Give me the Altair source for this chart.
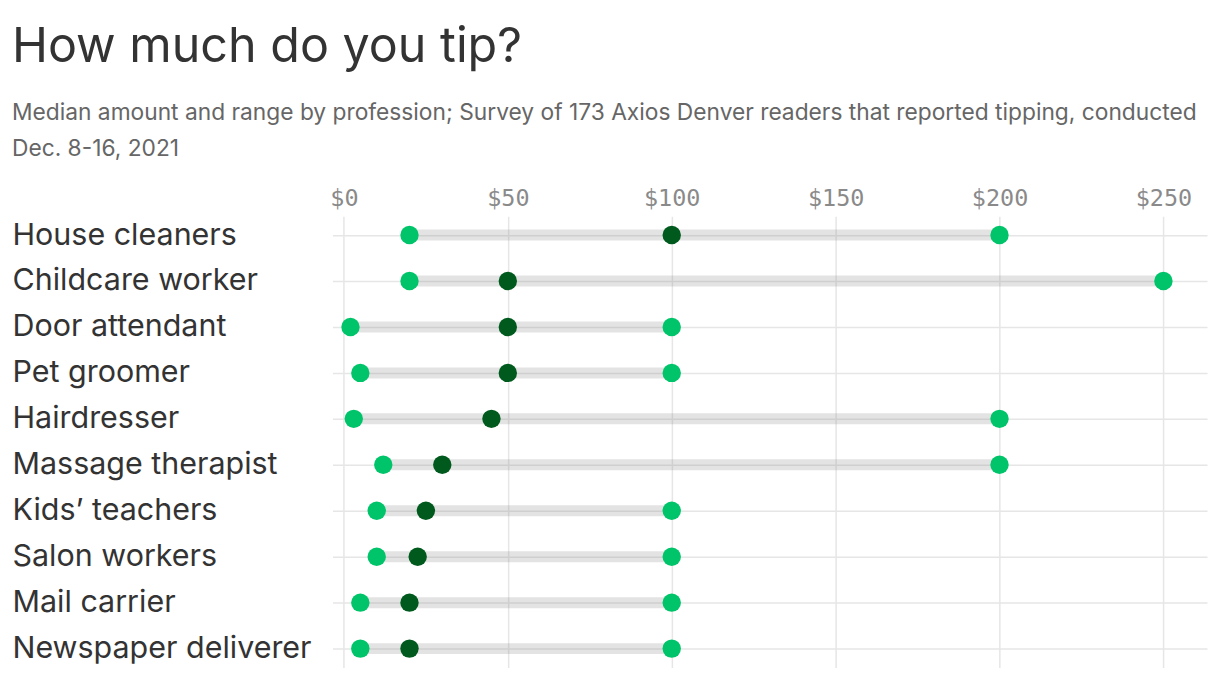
import altair as alt
import pandas as pd

professions = ["House cleaners", "Childcare worker", "Door attendant", "Pet groomer",
               "Hairdresser", "Massage therapist", "Kids’ teachers", "Salon workers",
               "Mail carrier", "Newspaper deliverer"]
low = [20, 20, 2, 5, 3, 12, 10, 10, 5, 5]
median = [100, 50, 50, 50, 45, 30, 25, 22.5, 20, 20]
high = [200, 250, 100, 100, 200, 200, 100, 100, 100, 100]
ticks = [0, 50, 100, 150, 200, 250]

df = pd.DataFrame({"profession": professions, "low": low, "median": median, "high": high})

FONT = "Inter"
x_scale = alt.Scale(domain=[-3.5, 263.3], nice=False, zero=False)
y_enc = alt.Y("profession:N", sort=professions,
              scale=alt.Scale(type="point", padding=0.41),
              axis=alt.Axis(title=None, orient="left", labelAlign="left", labelPadding=321,
                            labelFont=FONT, labelFontSize=30.5, labelColor="#333333",
                            labelLimit=400, ticks=False, domain=False, grid=True,
                            gridColor="#e6e6e6", gridWidth=1.5, labelBaseline="middle"))

x_axis = alt.Axis(title=None, orient="top", values=ticks, labelExpr="'$' + datum.value",
                  labelFont="DejaVu Sans Mono", labelFontSize=23.5, labelColor="#8a8a8a",
                  labelPadding=6, ticks=False, domain=False, grid=True,
                  gridColor="#e6e6e6", gridWidth=1.5)

base = alt.Chart(df)

bars = base.mark_rule(strokeWidth=11, color="#808080", opacity=0.22).encode(
    x=alt.X("low:Q", scale=x_scale, axis=x_axis),
    x2="high:Q",
    y=y_enc,
)

lows = base.mark_circle(size=340, color="#00c46a", opacity=1).encode(
    x=alt.X("low:Q", scale=x_scale), y=alt.Y("profession:N", sort=professions))
highs = base.mark_circle(size=340, color="#00c46a", opacity=1).encode(
    x=alt.X("high:Q", scale=x_scale), y=alt.Y("profession:N", sort=professions))
meds = base.mark_circle(size=340, color="#005a1e", opacity=1).encode(
    x=alt.X("median:Q", scale=x_scale), y=alt.Y("profession:N", sort=professions))

chart = alt.layer(bars, lows, highs, meds).properties(
    width=876, height=452,
    padding={"top": 14, "left": 4, "right": 5, "bottom": 5},
    title=alt.TitleParams(
        text="How much do you tip?",
        subtitle=["Median amount and range by profession; Survey of 173 Axios Denver readers that reported tipping, conducted",
                  "Dec. 8-16, 2021"],
        anchor="start", frame="bounds", font=FONT, fontSize=48.5, fontWeight="normal",
        color="#333333", subtitleFont=FONT, subtitleFontSize=22.8, subtitleColor="#666666",
        subtitleLineHeight=36, subtitlePadding=29, offset=25,
    ),
).configure(background="white", view=alt.ViewConfig(stroke=None))

chart.save("out.html", embed_options={"renderer": "svg", "actions": False})
